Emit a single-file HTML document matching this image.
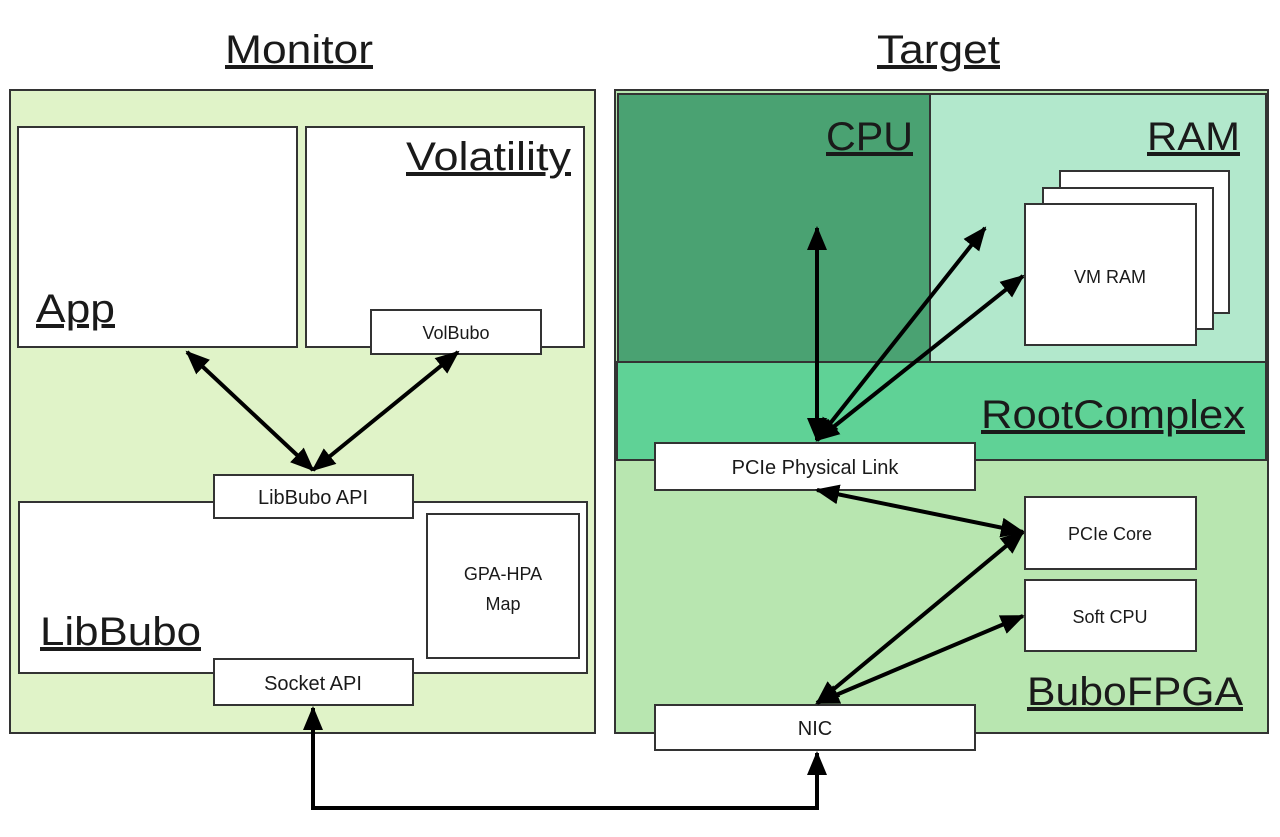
<!DOCTYPE html>
<html><head><meta charset="utf-8"><style>
html,body{margin:0;padding:0;background:#fff;}
svg{display:block;}
text{font-family:"Liberation Sans",sans-serif;fill:#1a1a1a;}
.big{font-size:40px;text-decoration:underline;}
.sm{font-size:20px;}
.xs{font-size:18px;}
</style></head><body>
<svg width="1280" height="837" viewBox="0 0 1280 837" xmlns="http://www.w3.org/2000/svg">
<defs>
<marker id="ah" viewBox="0 0 12 10" refX="11" refY="5" markerWidth="6" markerHeight="5" orient="auto-start-reverse" markerUnits="strokeWidth">
<path d="M0,0 L12,5 L0,10 z" fill="#000"/></marker>
</defs>
<g stroke="#333" stroke-width="2">
<rect x="10" y="90" width="585" height="643" fill="#e0f3c8"/>
<rect x="615" y="90" width="653" height="643" fill="#b8e6b0"/>
<rect x="618" y="94" width="312" height="268" fill="#4aa272"/>
<rect x="930" y="94" width="336" height="268" fill="#b2e8cc"/>
<rect x="617" y="362" width="649" height="98" fill="#5fd296"/>
<rect x="18" y="127" width="279" height="220" fill="#fff"/>
<rect x="306" y="127" width="278" height="220" fill="#fff"/>
<rect x="371" y="310" width="170" height="44" fill="#fff"/>
<rect x="19" y="502" width="568" height="171" fill="#fff"/>
<rect x="427" y="514" width="152" height="144" fill="#fff"/>
<rect x="214" y="475" width="199" height="43" fill="#fff"/>
<rect x="214" y="659" width="199" height="46" fill="#fff"/>
<rect x="1060" y="171" width="169" height="142" fill="#fff"/>
<rect x="1043" y="188" width="170" height="141" fill="#fff"/>
<rect x="1025" y="204" width="171" height="141" fill="#fff"/>
<rect x="655" y="443" width="320" height="47" fill="#fff"/>
<rect x="1025" y="497" width="171" height="72" fill="#fff"/>
<rect x="1025" y="580" width="171" height="71" fill="#fff"/>
<rect x="655" y="705" width="320" height="45" fill="#fff"/>
</g>
<g stroke="#000" stroke-width="4" fill="none" marker-start="url(#ah)" marker-end="url(#ah)">
<line x1="187" y1="352" x2="313" y2="470"/>
<line x1="458" y1="352" x2="313" y2="470"/>
<line x1="817" y1="228" x2="817" y2="440"/>
<line x1="985" y1="228" x2="817" y2="440"/>
<line x1="1023" y1="276" x2="817" y2="440"/>
<line x1="817" y1="490" x2="1023" y2="532"/>
<line x1="1023" y1="532" x2="817" y2="703"/>
<line x1="1023" y1="616" x2="817" y2="703"/>
</g>
<path d="M313,708 L313,808 L817,808 L817,753" stroke="#000" stroke-width="4" fill="none" marker-start="url(#ah)" marker-end="url(#ah)"/>
<text class="big" x="225" y="63" textLength="148" lengthAdjust="spacingAndGlyphs">Monitor</text>
<text class="big" x="877" y="63" textLength="123" lengthAdjust="spacingAndGlyphs">Target</text>
<text class="big" x="406" y="170" textLength="165" lengthAdjust="spacingAndGlyphs">Volatility</text>
<text class="big" x="36" y="322" textLength="79" lengthAdjust="spacingAndGlyphs">App</text>
<text class="big" x="40" y="645" textLength="161" lengthAdjust="spacingAndGlyphs">LibBubo</text>
<text class="big" x="826" y="150" textLength="87" lengthAdjust="spacingAndGlyphs">CPU</text>
<text class="big" x="1147" y="150" textLength="93" lengthAdjust="spacingAndGlyphs">RAM</text>
<text class="big" x="981" y="428" textLength="264" lengthAdjust="spacingAndGlyphs">RootComplex</text>
<text class="big" x="1027" y="705" textLength="216" lengthAdjust="spacingAndGlyphs">BuboFPGA</text>
<g text-anchor="middle">
<text class="xs" x="456" y="339">VolBubo</text>
<text class="sm" x="313" y="504">LibBubo API</text>
<text class="sm" x="313" y="690">Socket API</text>
<text class="xs" x="503" y="580">GPA-HPA</text>
<text class="xs" x="503" y="610">Map</text>
<text class="xs" x="1110" y="283">VM RAM</text>
<text class="sm" x="815" y="474">PCIe Physical Link</text>
<text class="xs" x="1110" y="540">PCIe Core</text>
<text class="xs" x="1110" y="623">Soft CPU</text>
<text class="sm" x="815" y="735">NIC</text>
</g>
</svg>
</body></html>
